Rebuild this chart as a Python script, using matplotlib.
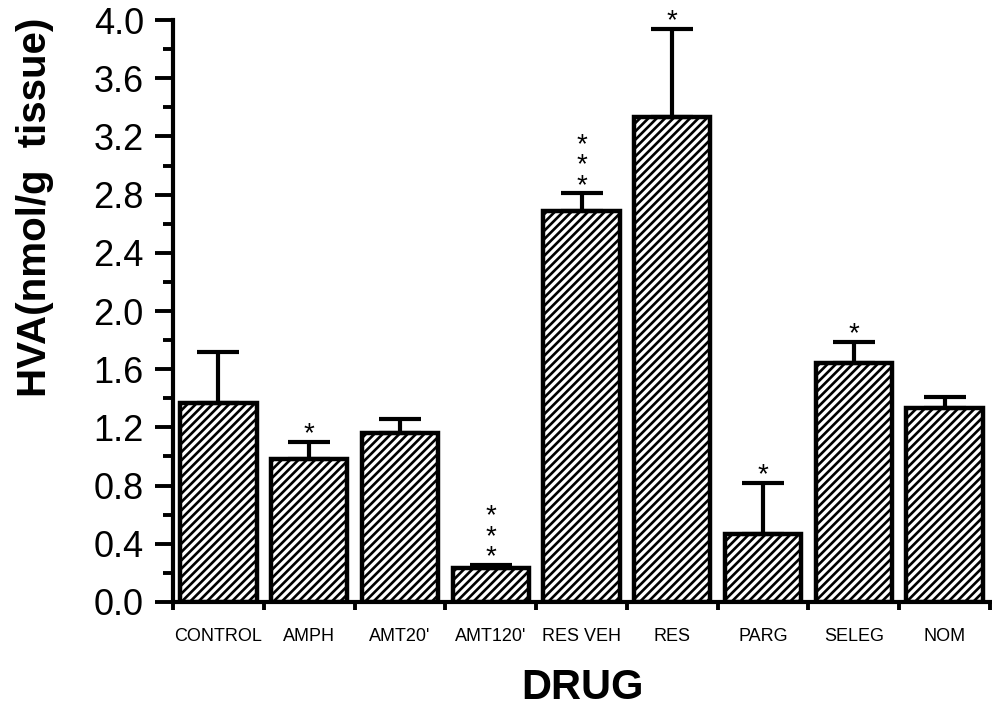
import matplotlib
matplotlib.use('Agg')
import matplotlib.pyplot as plt
import numpy as np
from matplotlib.ticker import MultipleLocator, FixedLocator, FormatStrFormatter, NullFormatter

# Values
drugs = ['CONTROL', 'AMPH', "AMT20'", "AMT120'", 'RES VEH', 'RES', 'PARG', 'SELEG', 'NOM']
hva_mean = [1.37, 0.98, 1.16, 0.235, 2.69, 3.33, 0.47, 1.64, 1.33]
hva_err = [0.35, 0.12, 0.10, 0.02, 0.12, 0.61, 0.35, 0.15, 0.08]
stars = ['', '*', '', '*\n*\n*', '*\n*\n*', '*', '*', '*', '']

plt.rcParams['font.family'] = ['Liberation Sans', 'DejaVu Sans']
plt.rcParams['hatch.linewidth'] = 1.9
plt.rcParams['hatch.color'] = 'black'

fig = plt.figure(figsize=(9.92, 7.12), dpi=100)
ax = fig.add_axes([0.1744, 0.1545, 0.8236, 0.8174])

x = np.arange(len(drugs))
ax.bar(x, hva_mean, width=0.84, color='white', edgecolor='black',
       linewidth=3.2, hatch='////', zorder=2)
ax.errorbar(x, hva_mean, yerr=[np.zeros(len(x)), hva_err], fmt='none',
            ecolor='black', elinewidth=3, capsize=15, capthick=3, zorder=3)

# significance marks
for xi, m, e, s in zip(x, hva_mean, hva_err, stars):
    if s:
        ax.annotate(s, xy=(xi, m + e), xytext=(0, -4), textcoords='offset points',
                    ha='center', va='bottom', fontsize=20, linespacing=0.72)

ax.set_xlim(-0.5, len(drugs) - 0.5)
ax.set_ylim(0, 4.0)
ax.yaxis.set_major_locator(MultipleLocator(0.4))
ax.yaxis.set_minor_locator(MultipleLocator(0.2))
ax.yaxis.set_major_formatter(FormatStrFormatter('%.1f'))

# ticks between bars, labels under bar centres
ax.xaxis.set_major_locator(FixedLocator(np.arange(-0.5, len(drugs), 1.0)))
ax.xaxis.set_major_formatter(NullFormatter())
ax.set_xticks(x, minor=True)
ax.set_xticklabels(drugs, minor=True, fontsize=13)

ax.tick_params(axis='y', which='major', direction='out', length=13, width=2.8,
               labelsize=26, pad=8)
ax.tick_params(axis='y', which='minor', direction='out', length=7, width=2.8)
ax.tick_params(axis='x', which='major', direction='out', length=6, width=2.8)
ax.tick_params(axis='x', which='minor', length=0, pad=19)

for side in ['top', 'right']:
    ax.spines[side].set_visible(False)
for side in ['left', 'bottom']:
    ax.spines[side].set_linewidth(3)

fig.text(0.035, 1 - 207 / 712, 'HVA(nmol/g  tissue)', rotation=90, ha='center',
         va='center', fontsize=29, fontweight='bold')
fig.text(583 / 992, 1 - 688 / 712, 'DRUG', ha='center', va='center',
         fontsize=30, fontweight='bold')

fig.savefig('out.png', dpi=100)
